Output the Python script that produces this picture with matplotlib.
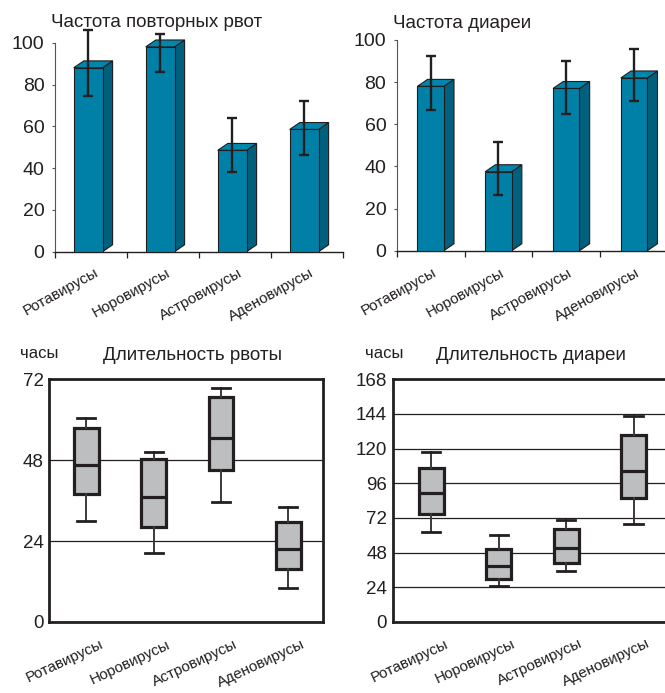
import matplotlib
matplotlib.use("Agg")
import matplotlib.pyplot as plt
from matplotlib.patches import Polygon

plt.rcParams['font.family'] = ['Liberation Sans', 'DejaVu Sans']

W, H = 665, 693

viruses = ['Ротавирусы', 'Норовирусы', 'Астровирусы', 'Аденовирусы']

# frequency of repeated vomiting, % (bar value, error bar low / high)
vomit_freq = [88, 98, 48.5, 58.5]
vomit_freq_lo = [74.5, 86, 38, 46.5]
vomit_freq_hi = [106, 104, 64, 72]

# frequency of diarrhea, %
diarr_freq = [78, 37.5, 77, 82]
diarr_freq_lo = [67, 26.5, 65, 71]
diarr_freq_hi = [92.5, 51.5, 90, 95.5]

# duration of vomiting, hours
vomit_whislo = [30, 20.5, 35.5, 10]
vomit_q1 = [38, 28.3, 45, 15.6]
vomit_med = [46.5, 37, 54.5, 21.7]
vomit_q3 = [57.5, 48.3, 66.8, 29.8]
vomit_whishi = [60.5, 50.5, 69.5, 34]

# duration of diarrhea, hours
diarr_whislo = [62, 25, 35, 68]
diarr_q1 = [75, 30, 41, 86]
diarr_med = [89, 39, 51.5, 104.5]
diarr_q3 = [106.5, 50.5, 64.5, 129.5]
diarr_whishi = [118, 60, 70.5, 142.5]

FRONT = '#0080A6'
SIDE = '#00607E'
TOP = '#0086AC'
EDGE = '#1E1E1E'
DARK = '#231F20'
BOXFILL = '#BCBEC0'


def axes_px(fig, x0, y0, x1, y1):
    # pixel box (left, top, right, bottom) -> figure fraction
    return fig.add_axes([x0 / W, 1 - y1 / H, (x1 - x0) / W, (y1 - y0) / H])


def fig_text(fig, x, y, s, size, **kw):
    fig.text(x / W, 1 - y / H, s, fontsize=size, color=DARK, va='baseline', **kw)


def category_labels(ax, pos, dx, dy, rot):
    for p, name in zip(pos, viruses):
        ax.annotate(name, xy=(p, 0), xycoords=ax.get_xaxis_transform(),
                    xytext=(dx * 0.72, dy * 0.72), textcoords='offset points',
                    ha='right', va='center', rotation=rot, rotation_mode='anchor',
                    fontsize=11, color=DARK, annotation_clip=False)


def bars_3d(ax, vals, lo, hi, shift, width, dx, dy):
    pos = [i + 1 + shift for i in range(len(vals))]
    for x, v in zip(pos, vals):
        x0, x1 = x - width / 2, x + width / 2
        ax.add_patch(Polygon([(x1, 0), (x1 + dx, dy), (x1 + dx, v + dy), (x1, v)],
                             closed=True, facecolor=SIDE, edgecolor=EDGE,
                             linewidth=0.8, zorder=2, clip_on=False))
        ax.add_patch(Polygon([(x0, v), (x1, v), (x1 + dx, v + dy), (x0 + dx, v + dy)],
                             closed=True, facecolor=TOP, edgecolor=EDGE,
                             linewidth=0.8, zorder=2, clip_on=False))
    ax.bar(pos, vals, width, color=FRONT, edgecolor=EDGE, linewidth=0.8, zorder=3)
    yerr = [[v - l for v, l in zip(vals, lo)], [h - v for v, h in zip(vals, hi)]]
    eb = ax.errorbar(pos, vals, yerr=yerr, fmt='none', ecolor=DARK,
                     elinewidth=1.7, capsize=3.6, capthick=1.7, zorder=5)
    for art in eb.lines[1] + eb.lines[2]:
        art.set_clip_on(False)


def style_bar_axes(ax):
    ax.set_xlim(0.5, 4.5)
    ax.set_ylim(0, 100)
    ax.set_yticks(range(0, 101, 20))
    ax.set_xticks([0.5, 1.5, 2.5, 3.5, 4.5])
    ax.set_xticklabels([])
    for s in ['top', 'right']:
        ax.spines[s].set_visible(False)
    ax.spines['left'].set_color('#555555')
    ax.spines['left'].set_linewidth(0.8)
    ax.spines['bottom'].set_color(DARK)
    ax.spines['bottom'].set_linewidth(1.0)
    ax.tick_params(axis='y', length=2.5, width=0.8, color='#555555', pad=5,
                   labelsize=14, labelcolor=DARK)
    ax.tick_params(axis='x', length=4, width=0.9, color=DARK)


def box_panel(ax, whislo, q1, med, q3, whishi, ymax, step):
    stats = []
    for a, b, c, d, e in zip(whislo, q1, med, q3, whishi):
        stats.append({'whislo': a, 'q1': b, 'med': c, 'q3': d, 'whishi': e, 'fliers': []})
    ax.bxp(stats, positions=[1, 2, 3, 4], widths=0.37, capwidths=0.27,
           showfliers=False, patch_artist=True,
           boxprops=dict(facecolor=BOXFILL, edgecolor=DARK, linewidth=2.3),
           medianprops=dict(color=DARK, linewidth=2.3),
           whiskerprops=dict(color='#3A3A3A', linewidth=1.4),
           capprops=dict(color=DARK, linewidth=2.0))
    ax.set_ylim(0, ymax)
    ax.set_yticks(range(0, ymax + 1, step))
    ax.set_xticks([])
    ax.set_axisbelow(True)
    ax.yaxis.grid(True, color=DARK, linewidth=0.9)
    for s in ax.spines.values():
        s.set_linewidth(2.0)
        s.set_color(DARK)
    ax.tick_params(axis='y', length=0, pad=4, labelsize=13.5, labelcolor=DARK)


fig = plt.figure(figsize=(W / 100, H / 100), dpi=100)

# top left: frequency of repeated vomiting
ax1 = axes_px(fig, 55, 42.7, 343, 251.7)
bars_3d(ax1, vomit_freq, vomit_freq_lo, vomit_freq_hi, -0.04, 0.40, 0.14, 3.3)
style_bar_axes(ax1)
category_labels(ax1, [1, 2, 3, 4], 6, -20, 29)
fig_text(fig, 51, 27, 'Частота повторных рвот', 13.5)

# top right: frequency of diarrhea
ax2 = axes_px(fig, 396.7, 40, 668, 250.7)
bars_3d(ax2, diarr_freq, diarr_freq_lo, diarr_freq_hi, 0.0, 0.39, 0.15, 3.3)
style_bar_axes(ax2)
category_labels(ax2, [1, 2, 3, 4], 5, -21, 29)
fig_text(fig, 393, 28, 'Частота диареи', 13.5)

# bottom left: duration of vomiting
ax3 = axes_px(fig, 49.3, 379.3, 323.3, 622)
box_panel(ax3, vomit_whislo, vomit_q1, vomit_med, vomit_q3, vomit_whishi, 72, 24)
ax3.set_xlim(0.45, 4.52)
category_labels(ax3, [1, 2, 3, 4], 16, -21.5, 25)
fig_text(fig, 20, 358, 'часы', 12)
fig_text(fig, 103, 360, 'Длительность рвоты', 13.5)

# bottom right: duration of diarrhea
ax4 = axes_px(fig, 392.7, 379.3, 674, 622)
box_panel(ax4, diarr_whislo, diarr_q1, diarr_med, diarr_q3, diarr_whishi, 168, 24)
ax4.set_xlim(0.43, 4.6)
category_labels(ax4, [1, 2, 3, 4], 16, -21, 25)
fig_text(fig, 365, 358, 'часы', 12)
fig_text(fig, 436, 360, 'Длительность диареи', 13.5)

fig.savefig('out.png', dpi=100)
